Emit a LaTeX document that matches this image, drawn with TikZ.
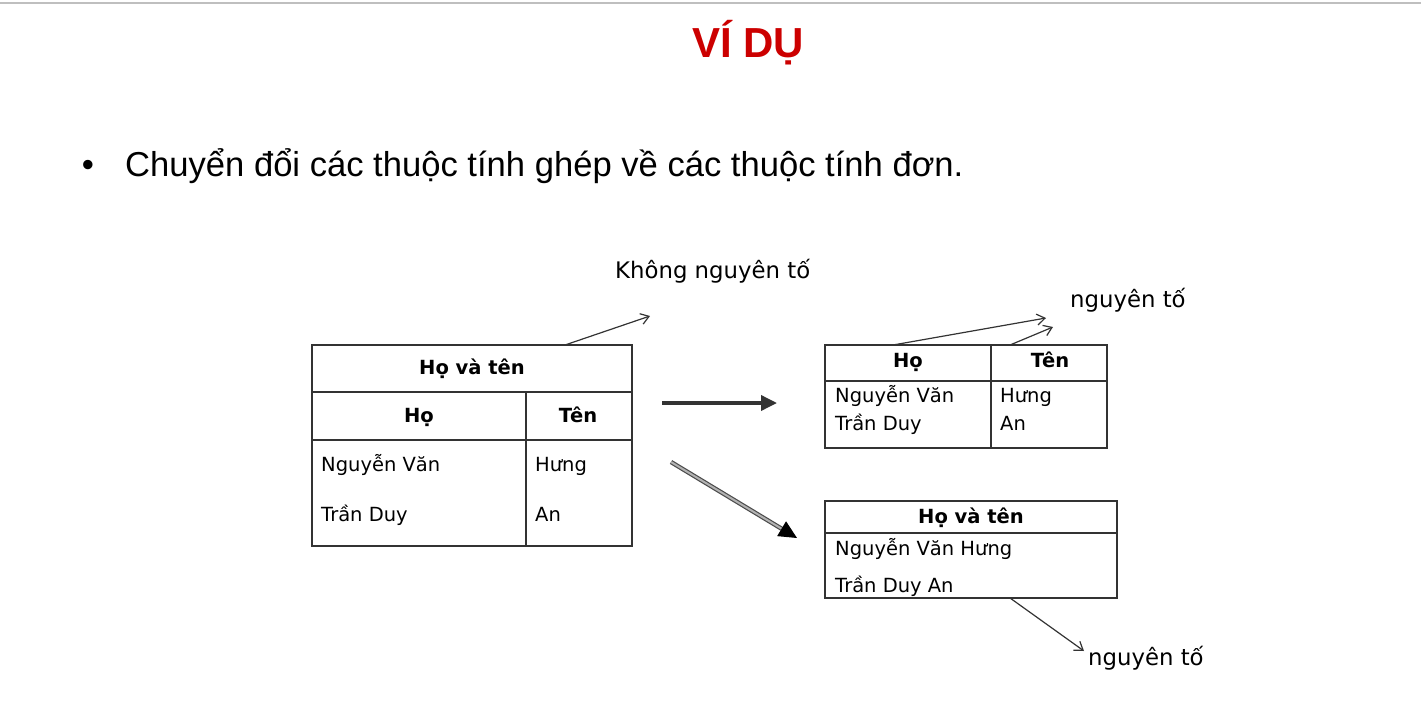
\documentclass[tikz,border=0pt]{standalone}
\usepackage{fontspec}
\setmainfont{Liberation Sans}
\newfontfamily\diagfont{DejaVu Sans}
\usetikzlibrary{arrows.meta}
\definecolor{titlered}{HTML}{CC0000}
\definecolor{rule}{HTML}{333333}
\tikzset{
  grid/.style={draw=rule, line width=1.6pt},
  head/.style={font=\diagfont\bfseries\fontsize{19.5}{22}\selectfont, inner sep=0pt, anchor=base},
  cell/.style={font=\diagfont\fontsize{19.5}{22}\selectfont, inner sep=0pt, anchor=base west},
  tag/.style={font=\diagfont\fontsize{22.8}{26}\selectfont, inner sep=0pt, anchor=base west},
  pointer/.style={draw=rule, line width=1.2pt, -{Straight Barb[length=8pt,width=11pt]}},
}
\begin{document}
\begin{tikzpicture}[x=1pt,y=-1pt]
      \useasboundingbox (0,0) rectangle (1421,717);
      \draw[draw=black!25, line width=2pt] (0,3) -- (1421,3);
      \draw
        (748,58) node[font=\bfseries\fontsize{42}{46}\selectfont, text=titlered, inner sep=0pt, anchor=base] (title){VÍ DỤ}
        (88,176) node[font=\fontsize{34.6}{40}\selectfont, inner sep=0pt, anchor=base] (dot){•}
        (125,176) node[font=\fontsize{34.6}{40}\selectfont, inner sep=0pt, anchor=base west] (bullet){Chuyển đổi các thuộc tính ghép về các thuộc tính đơn.};
      % left table
      \draw[grid] (312,345) rectangle (632,546);
      \draw[grid] (312,392) -- (632,392);
      \draw[grid] (312,440) -- (632,440);
      \draw[grid] (526,392) -- (526,546);
      \draw
        (472,374) node[head] (hvt){Họ và tên}
        (419,422) node[head] (ho){Họ}
        (578,422) node[head] (ten){Tên}
        (321,471) node[cell] (nv){Nguyễn Văn}
        (321,521) node[cell] (td){Trần Duy}
        (535,471) node[cell] (hung){Hưng}
        (535,521) node[cell] (an){An};
      % top right table
      \draw[grid] (825,345) rectangle (1107,448);
      \draw[grid] (825,381) -- (1107,381);
      \draw[grid] (991,345) -- (991,448);
      \draw
        (908,367) node[head] (ho2){Họ}
        (1050,367) node[head] (ten2){Tên}
        (835,402) node[cell] (nv2){Nguyễn Văn}
        (835,430) node[cell] (td2){Trần Duy}
        (1000,402) node[cell] (hung2){Hưng}
        (1000,430) node[cell] (an2){An};
      % bottom right table
      \draw[grid] (825,501) rectangle (1117,598);
      \draw[grid] (825,533) -- (1117,533);
      \draw
        (971,523) node[head] (hvt3){Họ và tên}
        (835,555) node[cell] (nvh3){Nguyễn Văn Hưng}
        (835,592) node[cell] (tda3){Trần Duy An};
      % labels
      \draw
        (615,278) node[tag] (kn){Không nguyên tố}
        (1070,307) node[tag] (nt1){nguyên tố}
        (1088,665) node[tag] (nt2){nguyên tố};
      \coordinate (a0) at (565,345);
      \coordinate (a1) at (650,316);
      \coordinate (b0) at (893,345);
      \coordinate (b1) at (1046,318);
      \coordinate (c0) at (1010,345);
      \coordinate (c1) at (1053,327);
      \coordinate (d0) at (1010,598);
      \coordinate (d1) at (1084,651);
      \coordinate (e0) at (662,403);
      \coordinate (e1) at (777,403);
      \coordinate (f0) at (671,462);
      \coordinate (f1) at (797,538);
      \begin{scope}[pointer]
        \draw (a0) to (a1);
        \draw (b0) to (b1);
        \draw (c0) to (c1);
        \draw (d0) to (d1);
      \end{scope}
      \draw[draw=rule, line width=3.5pt, -{Triangle[length=16pt,width=15pt]}] (e0) -- (e1);
      \draw[draw=black!70, line width=1.2pt, double=black!30, double distance=2pt,
            -{Triangle[length=18pt,width=17pt,color=black]}] (f0) -- (f1);
    \end{tikzpicture}
\end{document}
